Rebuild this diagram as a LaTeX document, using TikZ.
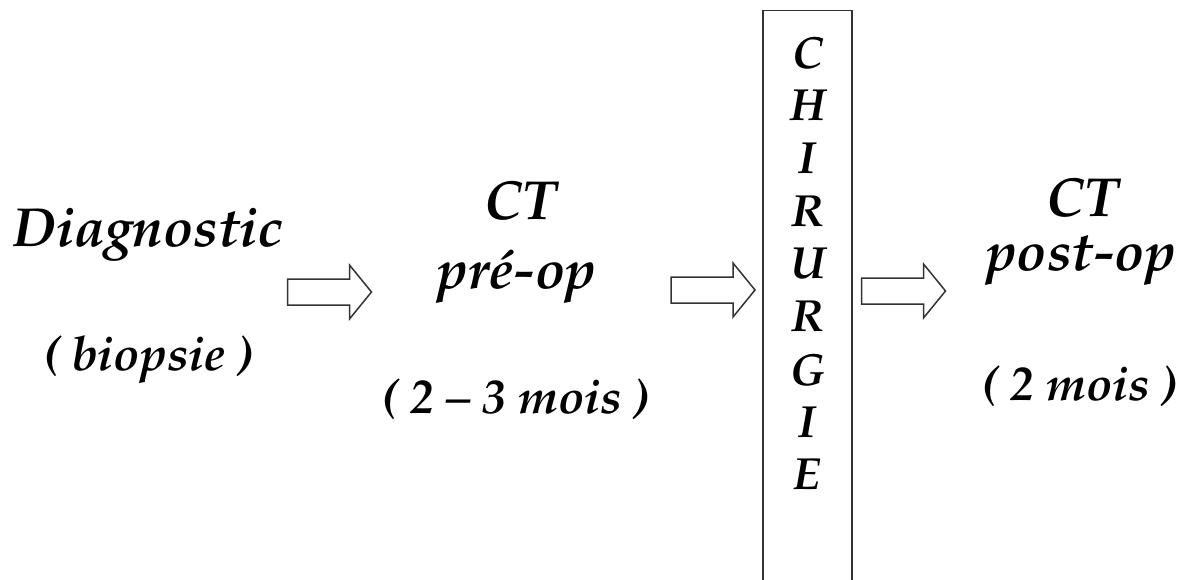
\documentclass[tikz,border=0pt]{standalone}
\usepackage[T1]{fontenc}
\usepackage{mathpazo}
\tikzset{
  title/.style={font=\fontsize{55}{64}\selectfont\bfseries\itshape, inner sep=0pt, anchor=base},
  note/.style={font=\fontsize{48}{56}\selectfont\bfseries\itshape, inner sep=0pt, anchor=base},
  letter/.style={font=\fontsize{45}{52}\selectfont\bfseries\itshape, inner sep=0pt},
  frame/.style={draw=black!80, line width=1.5pt},
  fatarrow/.pic={
    \draw[frame, line join=miter, fill=white]
      (-42,-13) -- (20,-13) -- (20,-27) -- (42,0) -- (20,27) -- (20,13) -- (-42,13) -- cycle;
  },
}
\begin{document}
\begin{tikzpicture}[x=1pt, y=-1pt]
  \useasboundingbox (0,0) rectangle (1186,580);

  % step 1: diagnosis
  \node[title] (diag) at (148,247) {Diagnostic};
  \node[note]  (biop) at (149,370) {( biopsie )};

  % step 2: pre-operative chemotherapy
  \node[title] (ct1)  at (520,220) {CT};
  \node[title] (pre)  at (517,288) {pr\'e-op};
  \node[note]  (d1)   at (516,413) {( 2 -- 3 mois )};

  % step 3: surgery, written vertically in a tall frame
  \node[frame, minimum width=89pt, minimum height=620pt,
        anchor=north, inner sep=0pt] (chir) at (807.5,10) {};
  \foreach \l [count=\i] in {C,H,I,R,U,R,G,I,E}
    \node[letter] (l\i) at (807.5,{53+52.75*(\i-1)}) {\l};

  % step 4: post-operative chemotherapy
  \node[title] (ct2)  at (1082,217) {CT};
  \node[title] (post) at (1081,270) {post-op};
  \node[note]  (d2)   at (1080,400) {( 2 mois )};

  % block arrows between the steps
  \coordinate (a1) at (329.5,292);
  \coordinate (a2) at (713,290);
  \coordinate (a3) at (903.5,291);
  \foreach \a in {a1,a2,a3}
    \pic at (\a) {fatarrow};
\end{tikzpicture}
\end{document}
